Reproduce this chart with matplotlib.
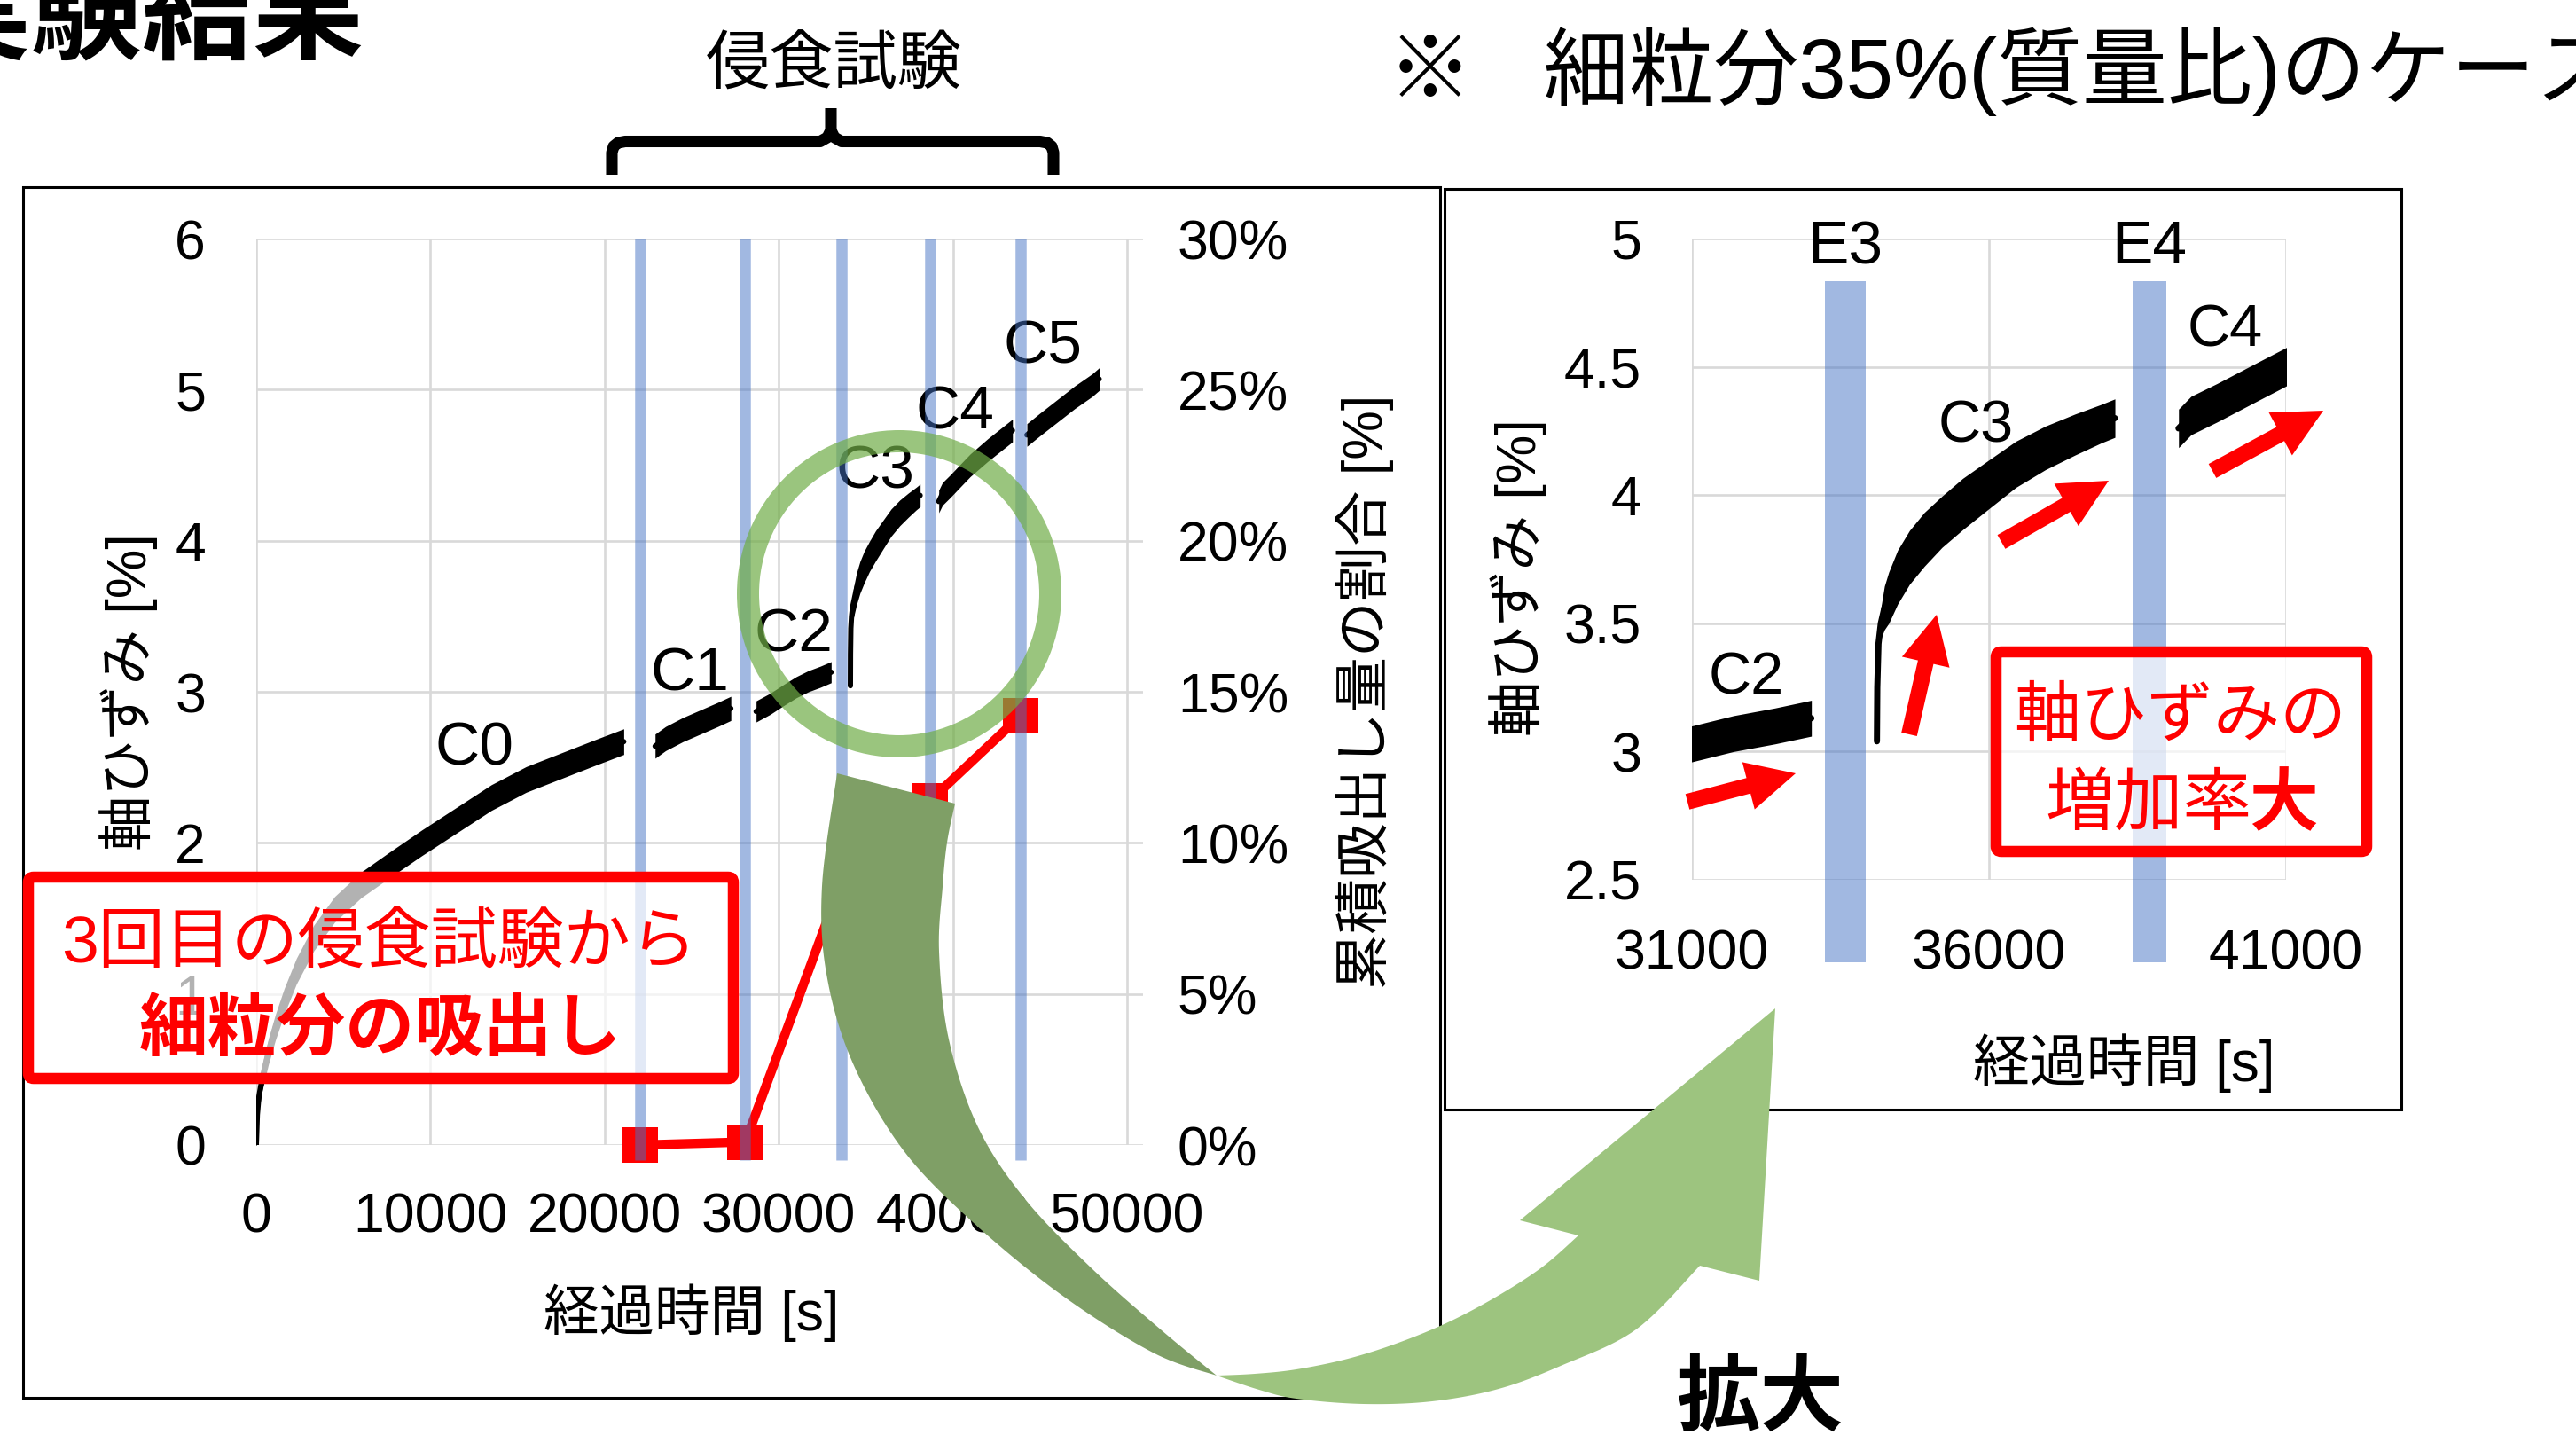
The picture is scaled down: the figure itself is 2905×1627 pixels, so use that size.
import numpy as np
import matplotlib
matplotlib.use('Agg')
import matplotlib.pyplot as plt
from matplotlib.patches import Ellipse, FancyBboxPatch, FancyArrow, Polygon, Rectangle
from matplotlib.ticker import FormatStrFormatter, FuncFormatter

plt.rcParams['font.family'] = ['Liberation Sans', 'Noto Sans CJK JP']

W, H = 2905, 1627

# axial strain [%] against elapsed time [s] for each consolidation stage
c0_t = [0, 60, 150, 350, 700, 1100, 1600, 2300, 3300, 4500, 6000, 7600, 9500,
        11500, 13500, 15500, 17500, 19500, 21100]
c0_e = [0, 0.20, 0.32, 0.45, 0.62, 0.78, 0.95, 1.15, 1.37, 1.56, 1.72, 1.85, 2.00,
        2.15, 2.30, 2.42, 2.51, 2.60, 2.67]
c1_t = [22900, 23500, 24500, 25500, 26500, 27250]
c1_e = [2.64, 2.69, 2.75, 2.80, 2.85, 2.89]
c2_t = [28700, 29500, 30300, 31000, 31700, 32400, 33010]
c2_e = [2.87, 2.92, 2.98, 3.03, 3.07, 3.10, 3.13]
c3_t = [34114, 34120, 34140, 34180, 34240, 34313, 34462, 34662, 34910, 35209,
        35557, 36005, 36453, 36950, 37448, 37895, 38120]
c3_e = [3.04, 3.25, 3.42, 3.50, 3.56, 3.60, 3.68, 3.757, 3.827, 3.896,
        3.965, 4.043, 4.12, 4.184, 4.236, 4.279, 4.30]
c4_t = [39190, 39400, 39840, 40500, 41000, 42000, 43420]
c4_e = [4.26, 4.31, 4.36, 4.44, 4.50, 4.60, 4.73]
c5_t = [44250, 45000, 46000, 47000, 48000, 48400]
c5_e = [4.70, 4.77, 4.86, 4.95, 5.03, 5.07]

# width of the measurement scatter band [%]
c0_w = 0.17
c1_w = 0.16
c2_w = 0.14
c3_w = [0, 0.02, 0.06, 0.12, 0.17, 0.20, 0.21, 0.21, 0.21, 0.20,
        0.20, 0.19, 0.18, 0.17, 0.16, 0.15, 0.15]
c4_w = 0.15
c5_w = 0.15

stage_names = ['C0', 'C1', 'C2', 'C3', 'C4', 'C5']
stage_t = [c0_t, c1_t, c2_t, c3_t, c4_t, c5_t]
stage_e = [c0_e, c1_e, c2_e, c3_e, c4_e, c5_e]
stage_w = [c0_w, c1_w, c2_w, c3_w, c4_w, c5_w]

# erosion tests E1..E5 (start / end time [s])
ero_names = ['E1', 'E2', 'E3', 'E4', 'E5']
ero_start = [21700, 27750, 33240, 38420, 43550]
ero_end = [22400, 28400, 33930, 38990, 44200]

# cumulative washed-out fines [%] after each erosion test
out_t = [22050, 28080, 33590, 38700, 43870]
out_v = [0, 0.1, 8.7, 11.4, 14.2]

# label anchor points (time, strain)
main_lab_t = [12510, 24870, 30835, 35513, 40104, 45153]
main_lab_e = [2.514, 3.009, 3.265, 4.346, 4.743, 5.173]
zoom_lab = {'C2': (31910, 3.224), 'C3': (35785, 4.208), 'C4': (39970, 4.579)}

GRID = '#d9d9d9'
BLUE = '#4472C4'

fig = plt.figure(figsize=(W / 100, H / 100), dpi=100)


def px_box(x0, y0, x1, y1):
    return [x0 / W, 1 - y1 / H, (x1 - x0) / W, (y1 - y0) / H]


def draw_stages(a, core):
    for t, e, w in zip(stage_t, stage_e, stage_w):
        t = np.asarray(t, float)
        e = np.asarray(e, float)
        w = np.broadcast_to(np.asarray(w, float), t.shape)
        a.fill_between(t, e - w / 2, e + w / 2, color='black', lw=0, zorder=3)
        a.plot(t, e, color='black', lw=core, solid_capstyle='round', zorder=3)


def style_axes(a):
    for sp in a.spines.values():
        sp.set_visible(False)
    a.grid(True, color=GRID, lw=1.9)
    a.set_axisbelow(True)


# ---- full test history ----
ax = fig.add_axes(px_box(289, 269, 1289, 1291))
style_axes(ax)
ax.set_xlim(0, 50917)
ax.set_ylim(0, 6)
ax.set_xticks(range(0, 50001, 10000))
ax.set_yticks(range(0, 7))
ax.xaxis.set_major_formatter(FormatStrFormatter('%d'))
ax.tick_params(axis='x', length=0, labelsize=45, pad=38)
ax.tick_params(axis='y', length=0, labelsize=45, pad=41)
draw_stages(ax, 4.3)
for name, t, e in zip(stage_names, main_lab_t, main_lab_e):
    ax.text(t, e, name, fontsize=50, ha='center', va='baseline', zorder=5)

ax2 = ax.twinx()
for sp in ax2.spines.values():
    sp.set_visible(False)
ax2.set_ylim(0, 30)
ax2.set_yticks(range(0, 31, 5))
ax2.yaxis.set_major_formatter(FuncFormatter(lambda v, p: f'{v:.0f}%'))
ax2.tick_params(axis='y', length=0, labelsize=45, pad=28)
ax2.plot(out_t, out_v, color='red', lw=7.5, marker='s', ms=29, mew=0,
         zorder=3, clip_on=False)
ero_mid = [(s + e) / 2 for s, e in zip(ero_start, ero_end)]
ax2.vlines(ero_mid, -0.5, 30, colors=BLUE, alpha=0.5, lw=9, zorder=4, clip_on=False)

# ---- enlarged view C2-C4 ----
axz = fig.add_axes(px_box(1908, 269, 2578, 992))
style_axes(axz)
axz.set_xlim(31000, 41000)
axz.set_ylim(2.5, 5)
axz.set_xticks([31000, 36000, 41000])
axz.set_yticks([2.5, 3, 3.5, 4, 4.5, 5])
axz.xaxis.set_major_formatter(FormatStrFormatter('%d'))
axz.yaxis.set_major_formatter(FormatStrFormatter('%g'))
axz.tick_params(axis='x', length=0, labelsize=45, pad=39)
axz.tick_params(axis='y', length=0, labelsize=45, pad=41)
draw_stages(axz, 5)
for name, s, e in zip(ero_names, ero_start, ero_end):
    if s < 31000 or e > 41000:
        continue
    axz.axvspan(s, e, ymin=(2.18 - 2.5) / 2.5, ymax=(4.835 - 2.5) / 2.5,
                color=BLUE, alpha=0.5, lw=0, clip_on=False, zorder=2)
    axz.text((s + e) / 2, 4.903, name, fontsize=50, ha='center', va='baseline',
             clip_on=False)
for name, (t, e) in zoom_lab.items():
    axz.text(t, e, name, fontsize=48, ha='center', va='baseline')

# ---- annotation layer in pixel coordinates ----
ov = fig.add_axes([0, 0, 1, 1], zorder=10)
ov.set_xlim(0, W)
ov.set_ylim(H, 0)
ov.axis('off')

ov.add_patch(Rectangle((26, 211), 1598, 1365, fill=False, ec='black', lw=2.2, zorder=1))
ov.add_patch(Rectangle((1629, 213), 1079, 1038, fill=False, ec='black', lw=2.2, zorder=1))

# brace over the erosion tests
ov.plot([690, 690, 692, 697, 705, 925, 933, 937, 937],
        [197, 172, 165, 161, 159.5, 159.5, 155, 147, 122],
        color='black', lw=9.4, solid_joinstyle='round', solid_capstyle='butt', zorder=2)
ov.plot([937, 941, 949, 1173, 1181, 1186, 1188, 1188],
        [147, 155, 159.5, 159.5, 161, 165, 172, 197],
        color='black', lw=9.4, solid_joinstyle='round', solid_capstyle='butt', zorder=2)

ov.text(-89, 56, '実験結果', fontsize=90, weight='bold', ha='left', va='baseline')
ov.text(940, 95, '侵食試験', fontsize=52, ha='center', va='baseline')
ov.text(1565, 111, '※   細粒分35%(質量比)のケース', fontsize=69, ha='left', va='baseline')

ov.text(145, 780, '軸ひずみ [%]', fontsize=45, rotation=90, ha='center', va='center')
ov.text(1539, 780, '累積吸出し量の割合 [%]', fontsize=45, rotation=90, ha='center', va='center')
ov.text(780, 1500, '経過時間 [s]', fontsize=45, ha='center', va='baseline')
ov.text(1712, 651, '軸ひずみ [%]', fontsize=45, rotation=90, ha='center', va='center')
ov.text(2395, 1219, '経過時間 [s]', fontsize=46, ha='center', va='baseline')

# highlight ring around the jump after E3
ov.add_patch(Ellipse((1014, 669.5), 341, 344, fill=False, ec='#70AD47', lw=18,
                     alpha=0.7, zorder=4))

# callout boxes
ov.add_patch(FancyBboxPatch((32, 989), 795, 227, boxstyle='round,pad=0,rounding_size=6',
                            fc=(1, 1, 1, 0.7), ec='red', lw=9, zorder=5))
ov.text(428, 1085, '3回目の侵食試験から', fontsize=54, color='red',
        ha='center', va='baseline', zorder=6)
ov.text(429, 1184, '細粒分の吸出し', fontsize=56, color='red', weight='bold',
        ha='center', va='baseline', zorder=6)

ov.add_patch(FancyBboxPatch((2251, 735), 418, 225, boxstyle='round,pad=0,rounding_size=6',
                            fc=(1, 1, 1, 0.7), ec='red', lw=9, zorder=5))
ov.text(2459, 830, '軸ひずみの', fontsize=54, color='red',
        ha='center', va='baseline', zorder=6)
ov.text(2540, 930, '増加率', fontsize=56, color='red', ha='right', va='baseline', zorder=6)
ov.text(2536, 930, '大', fontsize=56, color='red', weight='bold',
        ha='left', va='baseline', zorder=6)

# red trend arrows (tail -> tip)
for (x0, y0), (x1, y1) in [((1903, 904), (2025, 872)),
                           ((2153, 828), (2184, 693)),
                           ((2257, 611), (2378, 542)),
                           ((2495, 531), (2620, 463))]:
    ov.add_patch(FancyArrow(x0, y0, x1 - x0, y1 - y0, width=18, head_width=55,
                            head_length=55, length_includes_head=True,
                            fc='red', ec='none', zorder=5))


def smooth(pts, n=14):
    p = np.asarray(pts, float)
    p = np.vstack([p[0], p, p[-1]])
    out = []
    for i in range(1, len(p) - 2):
        p0, p1, p2, p3 = p[i - 1], p[i], p[i + 1], p[i + 2]
        for s in np.linspace(0, 1, n, endpoint=False):
            out.append(0.5 * (2 * p1 + (p2 - p0) * s
                              + (2 * p0 - 5 * p1 + 4 * p2 - p3) * s ** 2
                              + (3 * p1 - p0 - 3 * p2 + p3) * s ** 3))
    out.append(p[-2])
    return np.array(out)


# curved "zoom" arrow: back face then front face with head
back_outer = [(944, 872), (927, 999), (932, 1098), (961, 1197), (1018, 1296),
              (1097, 1378), (1197, 1460), (1300, 1525), (1372, 1551)]
back_inner = [(1077, 906), (1068, 950), (1063, 1000), (1059, 1073), (1070, 1172),
              (1103, 1271), (1156, 1352), (1231, 1430), (1310, 1500), (1372, 1551)]
front_lower = [(1372, 1551), (1420, 1567), (1462, 1577), (1538, 1583), (1615, 1580),
               (1690, 1566), (1760, 1540), (1845, 1499), (1917, 1427)]
front_head = [(1984, 1444), (2002, 1137), (1714, 1376)]
front_upper = [(1780, 1393), (1740, 1428), (1691, 1460), (1635, 1490), (1577, 1514),
               (1520, 1532), (1462, 1544), (1415, 1549), (1372, 1551)]

back = np.vstack([smooth(back_outer), smooth(back_inner)[::-1]])
ov.add_patch(Polygon(back, closed=True, fc='#7f9f66', ec='none', zorder=7))
front = np.vstack([smooth(front_lower), front_head, smooth(front_upper)])
ov.add_patch(Polygon(front, closed=True, fc='#9dc47f', ec='none', zorder=7))

ov.text(1985, 1606, '拡大', fontsize=68, weight='bold', ha='center', va='baseline', zorder=8)

fig.savefig('out.png', dpi=100)
